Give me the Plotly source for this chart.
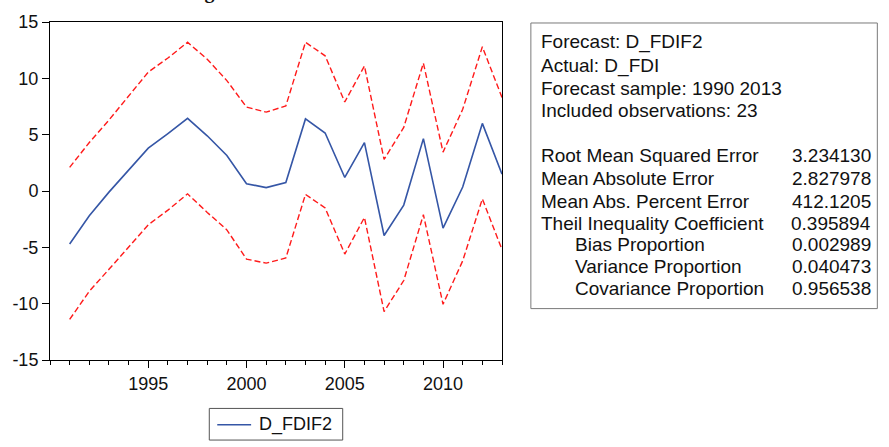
import plotly.graph_objects as go

years = list(range(1991, 2014))
forecast = [-4.7, -2.2, -0.1, 1.9, 3.8, 5.1, 6.45, 4.9, 3.15, 0.65, 0.3, 0.75, 6.4, 5.15,
            1.2, 4.3, -3.95, -1.25, 4.65, -3.3, 0.35, 6.0, 1.5]
upper = [2.1, 4.3, 6.3, 8.4, 10.55, 11.8, 13.2, 11.7, 9.8, 7.45, 7.0, 7.55, 13.2, 12.0,
         7.9, 11.1, 2.8, 5.65, 11.35, 3.45, 7.25, 12.8, 8.3]
lower = [-11.4, -8.9, -6.95, -5.0, -3.0, -1.7, -0.25, -1.9, -3.45, -6.05, -6.4, -5.95, -0.3, -1.5,
         -5.6, -2.35, -10.7, -7.95, -2.1, -10.05, -6.2, -0.7, -5.2]

y_ticks = [-15, -10, -5, 0, 5, 10, 15]
y_ticktext = ["-15", "-10", "-5", "0", "5", "10", "15"]
x_ticks = [1995, 2000, 2005, 2010]
x_minor = list(range(1990, 2014))

stats_header = ["Forecast: D_FDIF2", "Actual: D_FDI", "Forecast sample: 1990 2013",
                "Included observations: 23"]
stats_labels = ["Root Mean Squared Error", "Mean Absolute Error", "Mean Abs. Percent Error",
                "Theil Inequality Coefficient", "Bias Proportion", "Variance Proportion",
                "Covariance Proportion"]
stats_indent = [False, False, False, False, True, True, True]
stats_values = ["3.234130", "2.827978", "412.1205", "0.395894", "0.002989", "0.040473", "0.956538"]

W, H = 889, 447
L, T, PW, PH = 48, 18, 454, 342
FONT = "Liberation Sans, Arial, sans-serif"
BLUE = "#3556A6"
RED = "#FF1A1A"
TXT = "#111111"


def px(x):
    return (x - L) / PW


def py(y):
    return (T + PH - y) / PH


fig = go.Figure()
fig.add_trace(go.Scatter(x=years, y=upper, mode="lines",
                         line=dict(color=RED, width=1.4, dash="6px,3px"), showlegend=False))
fig.add_trace(go.Scatter(x=years, y=lower, mode="lines",
                         line=dict(color=RED, width=1.4, dash="6px,3px"), showlegend=False))
fig.add_trace(go.Scatter(x=years, y=forecast, mode="lines",
                         line=dict(color=BLUE, width=1.6), showlegend=False))

fig.update_layout(
    width=W, height=H,
    margin=dict(l=L, r=W - L - PW, t=T, b=H - T - PH),
    paper_bgcolor="white", plot_bgcolor="white",
    font=dict(family=FONT, size=18, color=TXT),
    showlegend=False,
)
fig.update_xaxes(range=[1990, 2013], tickmode="array", tickvals=x_ticks,
                 ticks="outside", ticklen=7, tickwidth=1, tickcolor="black",
                 showline=True, linecolor="black", linewidth=1, mirror=True,
                 showgrid=False, zeroline=False,
                 tickfont=dict(family=FONT, size=18, color=TXT),
                 minor=dict(tickmode="array", tickvals=x_minor, ticks="outside",
                            ticklen=4, tickcolor="black", showgrid=False))
fig.update_yaxes(range=[-15, 15], tickmode="array", tickvals=y_ticks, ticktext=y_ticktext,
                 ticks="outside", ticklen=7, tickwidth=1, tickcolor="black",
                 showline=True, linecolor="black", linewidth=1, mirror=True,
                 showgrid=False, zeroline=False,
                 tickfont=dict(family=FONT, size=18, color=TXT))

shapes = []
annotations = []

# statistics box
shapes.append(dict(type="rect", xref="paper", yref="paper",
                   x0=px(531), x1=px(879), y0=py(19), y1=py(308),
                   line=dict(color="#7a7a7a", width=1), fillcolor="rgba(0,0,0,0)"))
header_y = [38, 63, 85.5, 107.5]
for txt, yy in zip(stats_header, header_y):
    annotations.append(dict(text=txt, xref="paper", yref="paper", x=px(539), y=py(yy),
                            xanchor="left", yanchor="middle", showarrow=False,
                            font=dict(family=FONT, size=19, color=TXT)))
row_y = [153, 176.5, 199.5, 221.5, 243.5, 265, 288]
for lab, ind, val, yy in zip(stats_labels, stats_indent, stats_values, row_y):
    annotations.append(dict(text=lab, xref="paper", yref="paper",
                            x=px(573 if ind else 539), y=py(yy),
                            xanchor="left", yanchor="middle", showarrow=False,
                            font=dict(family=FONT, size=19, color=TXT)))
    annotations.append(dict(text=val, xref="paper", yref="paper", x=px(875), y=py(yy),
                            xanchor="right", yanchor="middle", showarrow=False,
                            font=dict(family=FONT, size=19, color=TXT)))

# legend
shapes.append(dict(type="rect", xref="paper", yref="paper",
                   x0=px(208), x1=px(342), y0=py(409), y1=py(441),
                   line=dict(color="#555555", width=1), fillcolor="white"))
shapes.append(dict(type="line", xref="paper", yref="paper",
                   x0=px(216), x1=px(250), y0=py(425.5), y1=py(425.5),
                   line=dict(color=BLUE, width=1.6)))
annotations.append(dict(text="D_FDIF2", xref="paper", yref="paper", x=px(256), y=py(425.5),
                        xanchor="left", yanchor="middle", showarrow=False,
                        font=dict(family=FONT, size=18, color=TXT)))

# clipped title fragment at the very top (only the descender shows, as in the source)
annotations.append(dict(text="<b>Forecasting</b>", xref="paper", yref="paper",
                        x=px(216), y=py(1), xanchor="right", yanchor="bottom",
                        showarrow=False,
                        font=dict(family="Liberation Serif, Times New Roman, serif", size=20,
                                  color=TXT)))

fig.update_layout(shapes=shapes, annotations=annotations)
fig.write_html("out.html")
